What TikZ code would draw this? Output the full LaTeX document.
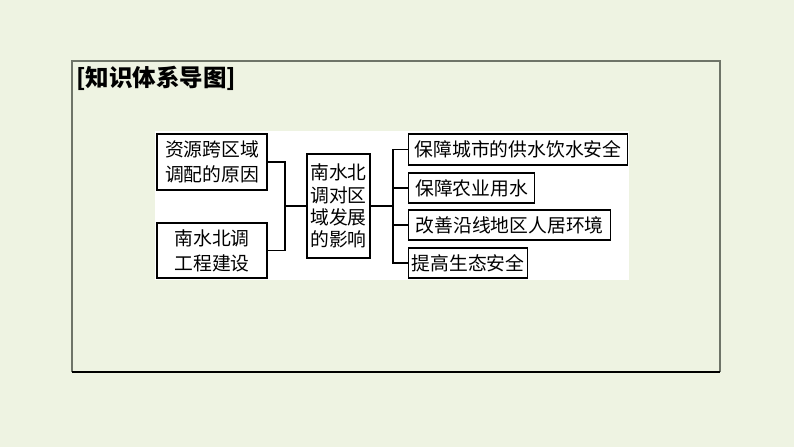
\documentclass[tikz,border=0pt]{standalone}
\usepackage{fontspec}
\newfontfamily\cjk{Noto Sans CJK SC}
\definecolor{bgc}{HTML}{EEF3E2}
\definecolor{framec}{HTML}{6E7468}
\begin{document}
\begin{tikzpicture}[x=1pt,y=-1pt,
  box/.style={draw=black,line width=1.2pt,fill=white,inner sep=0pt,align=center,
    font=\cjk\fontsize{18.8}{25}\selectfont},
  conn/.style={draw=black,line width=1.2pt}]
\fill[bgc] (0,0) rectangle (794,447);
\useasboundingbox (0,0) rectangle (794,447);
% frame
\draw[framec,line width=1.2pt] (72,372) -- (72,61) -- (720,61) -- (720,372);
\draw[black,line width=1.5pt] (72,372) -- (720,372);
\node[anchor=west,font=\cjk\bfseries\fontsize{23.5}{26}\selectfont,inner sep=0pt] (title) at (76,78) {[知识体系导图]};
% white panel
\fill[white] (155,131) rectangle (629,280);
% left boxes
\node[box,minimum width=110pt,minimum height=56pt] (A) at (212,162) {资源跨区域\\调配的原因};
\node[box,minimum width=110pt,minimum height=55pt] (B) at (212,250.5) {南水北调\\工程建设};
\node[box,minimum width=63pt,minimum height=104pt,font=\cjk\fontsize{18.8}{22.3}\selectfont] (C) at (338.5,206) {南水北\\调对区\\域发展\\的影响};
% right boxes
\node[box,anchor=west,minimum width=219pt,minimum height=31pt] (R1) at (408,149.5) {保障城市的供水饮水安全};
\node[box,anchor=west,minimum width=126pt,minimum height=30pt] (R2) at (408,188) {保障农业用水};
\node[box,anchor=west,minimum width=202pt,minimum height=30pt] (R3) at (408,225) {改善沿线地区人居环境};
\node[box,anchor=west,minimum width=119pt,minimum height=30pt] (R4) at (408,263) {提高生态安全};
% connectors
\coordinate (j1) at (285,206);
\coordinate (j2) at (393,206);
\draw[conn] (A.east) -| (j1) |- (B.east);
\draw[conn] (j1) -- (C.west);
\draw[conn] (C.east) -- (j2);
\draw[conn] (j2) |- (R1.west);
\draw[conn] (j2) |- (R2.west);
\draw[conn] (j2) |- (R3.west);
\draw[conn] (j2) |- (R4.west);
\end{tikzpicture}
\end{document}
